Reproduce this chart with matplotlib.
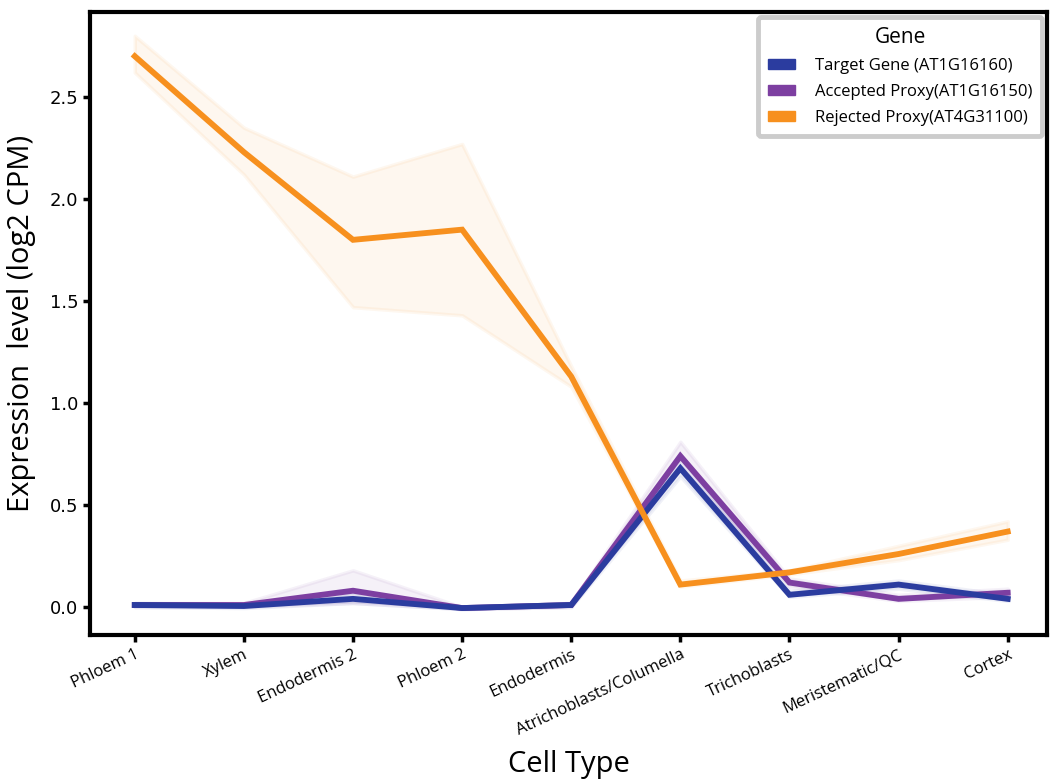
import matplotlib.pyplot as plt
from matplotlib.patches import Patch

cell_types = ['Phloem 1', 'Xylem', 'Endodermis 2', 'Phloem 2', 'Endodermis',
              'Atrichoblasts/Columella', 'Trichoblasts', 'Meristematic/QC', 'Cortex']

# mean expression (log2 CPM)
target = [0.01, 0.005, 0.04, -0.005, 0.01, 0.68, 0.06, 0.11, 0.04]
accepted = [0.01, 0.01, 0.08, -0.005, 0.01, 0.74, 0.12, 0.04, 0.07]
rejected = [2.70, 2.23, 1.80, 1.85, 1.13, 0.11, 0.17, 0.26, 0.37]

# confidence bands
target_lo = [0.00, -0.005, 0.02, -0.01, 0.00, 0.64, 0.05, 0.09, 0.03]
target_hi = [0.02, 0.015, 0.07, 0.00, 0.02, 0.73, 0.08, 0.13, 0.06]
accepted_lo = [0.00, 0.00, 0.02, -0.01, 0.00, 0.69, 0.10, 0.03, 0.05]
accepted_hi = [0.02, 0.02, 0.18, 0.00, 0.02, 0.81, 0.14, 0.06, 0.09]
rejected_lo = [2.62, 2.12, 1.47, 1.43, 1.08, 0.10, 0.16, 0.23, 0.33]
rejected_hi = [2.80, 2.35, 2.11, 2.27, 1.18, 0.13, 0.18, 0.30, 0.42]

genes = ['Target Gene (AT1G16160)', 'Accepted Proxy(AT1G16150)', 'Rejected Proxy(AT4G31100)']
colors = ['#2b3c9f', '#7d3fa1', '#f7901e']

fig = plt.figure(figsize=(10.53, 7.82), dpi=100)
ax = fig.add_axes([0.0855, 0.188, 0.9088, 0.7967])

x = list(range(len(cell_types)))
series = [(target, target_lo, target_hi), (accepted, accepted_lo, accepted_hi),
          (rejected, rejected_lo, rejected_hi)]
for (mean, lo, hi), c in zip(series, colors):
    ax.fill_between(x, lo, hi, color=c, alpha=0.07, linewidth=2.5, edgecolor=c)
# purple under blue, orange on top
for i in [1, 0, 2]:
    ax.plot(x, series[i][0], color=colors[i], linewidth=4.2, solid_joinstyle='miter')

ax.set_xlim(-0.41, 8.36)
ax.set_ylim(-0.137, 2.917)
ax.set_xticks(x)
ax.set_xticklabels(cell_types, rotation=25, ha='right', rotation_mode='anchor',
                   fontsize=12, family='Open Sans')
ax.set_yticks([0.0, 0.5, 1.0, 1.5, 2.0, 2.5])
ax.tick_params(axis='y', labelsize=13, width=2.5, length=5)
ax.tick_params(axis='x', width=2.5, length=5)
for s in ax.spines.values():
    s.set_linewidth(3)

ax.set_ylabel('Expression  level (log2 CPM)', fontsize=21, family='Open Sans', labelpad=10)
ax.set_xlabel('Cell Type', fontsize=21, family='Open Sans')
ax.xaxis.set_label_coords(0.5, -0.185)

handles = [Patch(facecolor=c, edgecolor=c) for c in colors]
leg = ax.legend(handles, genes, title='Gene', loc='upper right',
                frameon=True, fancybox=True,
                prop={'family': 'Open Sans', 'size': 12},
                handlelength=1.6, handleheight=0.5, borderpad=0.6,
                labelspacing=0.6, handletextpad=1.2, borderaxespad=0.3)
leg.get_title().set_fontsize(15)
leg.get_title().set_family('Open Sans')
leg.get_frame().set_edgecolor('#cccccc')
leg.get_frame().set_linewidth(3.5)
leg.get_frame().set_alpha(1)

fig.savefig('out.png', dpi=100)
